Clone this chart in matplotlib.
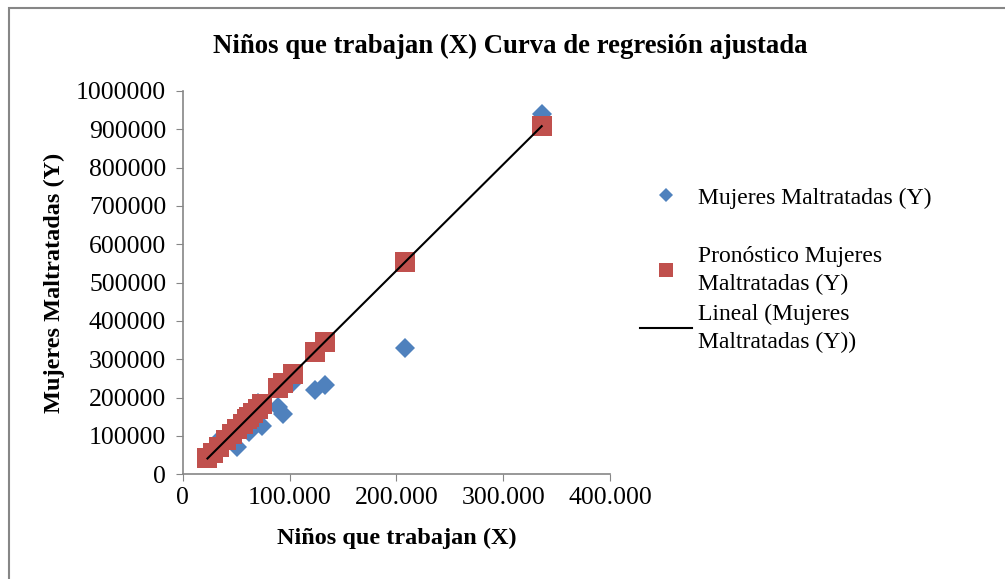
import numpy as np
import matplotlib.pyplot as plt
from matplotlib.lines import Line2D
from matplotlib.patches import Rectangle

plt.rcParams["font.family"] = ["Liberation Serif", "DejaVu Serif"]

# ---- data ----
ninos = [23000, 28000, 34000, 40000, 46000, 51000, 56000, 60000, 62000, 66000,
         70000, 74000, 89000, 94000, 103000, 124000, 133000, 208000, 336000]
mujeres = [45000, 60000, 90000, 85000, 105000, 72000, 120000, 140000, 110000, 130000,
           185000, 125000, 175000, 157000, 240000, 220000, 232000, 330000, 940000]
pronostico = [41000, 55000, 71000, 88000, 104000, 118000, 132000, 143000, 149000, 160000,
              171000, 182000, 224000, 237000, 262000, 320000, 345000, 553000, 908000]

x_ticks = [0, 100000, 200000, 300000, 400000]
x_tick_labels = ["0", "100.000", "200.000", "300.000", "400.000"]
y_ticks = list(range(0, 1000001, 100000))

BLUE = "#4F81BD"
RED = "#C0504D"
GRAY = "#868686"

fig = plt.figure(figsize=(10.05, 5.79), dpi=100)
ax = fig.add_axes([0.182, 0.181, 0.425, 0.662])

# outer chart border
fig.patches.append(Rectangle((9 / 1005, -0.05), 1.1, 1 - 8 / 579 + 0.05,
                             transform=fig.transFigure, fill=False,
                             edgecolor=GRAY, linewidth=1.5))

ax.plot(ninos, mujeres, linestyle="none", marker="D", markersize=10.2,
        color=BLUE, markeredgewidth=0)
ax.plot(ninos, pronostico, linestyle="none", marker="s", markersize=14.4,
        color=RED, markeredgewidth=0)
line_x = [min(ninos), max(ninos)]
line_y = [pronostico[0], pronostico[-1]]
ax.plot(line_x, line_y, color="black", linewidth=1.5)

ax.set_xlim(0, 400000)
ax.set_ylim(0, 1000000)
ax.set_xticks(x_ticks)
ax.set_xticklabels(x_tick_labels)
ax.set_yticks(y_ticks)
ax.set_yticklabels([str(v) for v in y_ticks])

for s in ["top", "right"]:
    ax.spines[s].set_visible(False)
for s in ["left", "bottom"]:
    ax.spines[s].set_color(GRAY)
    ax.spines[s].set_linewidth(1.2)
ax.tick_params(axis="both", direction="out", length=5, color=GRAY, labelsize=18.5)
ax.tick_params(axis="y", pad=7)
ax.tick_params(axis="x", pad=4)

ax.set_xlabel("Niños que trabajan (X)", fontsize=17.5, fontweight="bold", labelpad=14)
ax.set_ylabel("Mujeres Maltratadas (Y)", fontsize=17.5, fontweight="bold", labelpad=8)
fig.text(0.508, 1 - 46 / 579, "Niños que trabajan (X) Curva de regresión ajustada",
         ha="center", va="center", fontsize=19.3, fontweight="bold")

# legend, split in two so the spacing follows the reference
h1 = [Line2D([], [], linestyle="none", marker="D", markersize=7, color=BLUE, markeredgewidth=0)]
l1 = ["Mujeres Maltratadas (Y)"]
h2 = [Line2D([], [], linestyle="none", marker="s", markersize=10, color=RED, markeredgewidth=0),
      Line2D([], [], color="black", linewidth=1.5)]
l2 = ["Pronóstico Mujeres\nMaltratadas (Y)", "Lineal (Mujeres\nMaltratadas (Y))"]

leg_kw = dict(loc="upper left", frameon=False, fontsize=17, handlelength=2.2,
              handletextpad=0.25, borderaxespad=0, borderpad=0)
leg1 = fig.legend(h1, l1, bbox_to_anchor=(640 / 1005, 1 - 187 / 579), **leg_kw)
leg2 = fig.legend(h2, l2, bbox_to_anchor=(640 / 1005, 1 - 246 / 579),
                  labelspacing=0.35, **leg_kw)
for t in leg2.get_texts():
    t.set_linespacing(1.45)

plt.savefig("out.png", dpi=100)
plt.close()
